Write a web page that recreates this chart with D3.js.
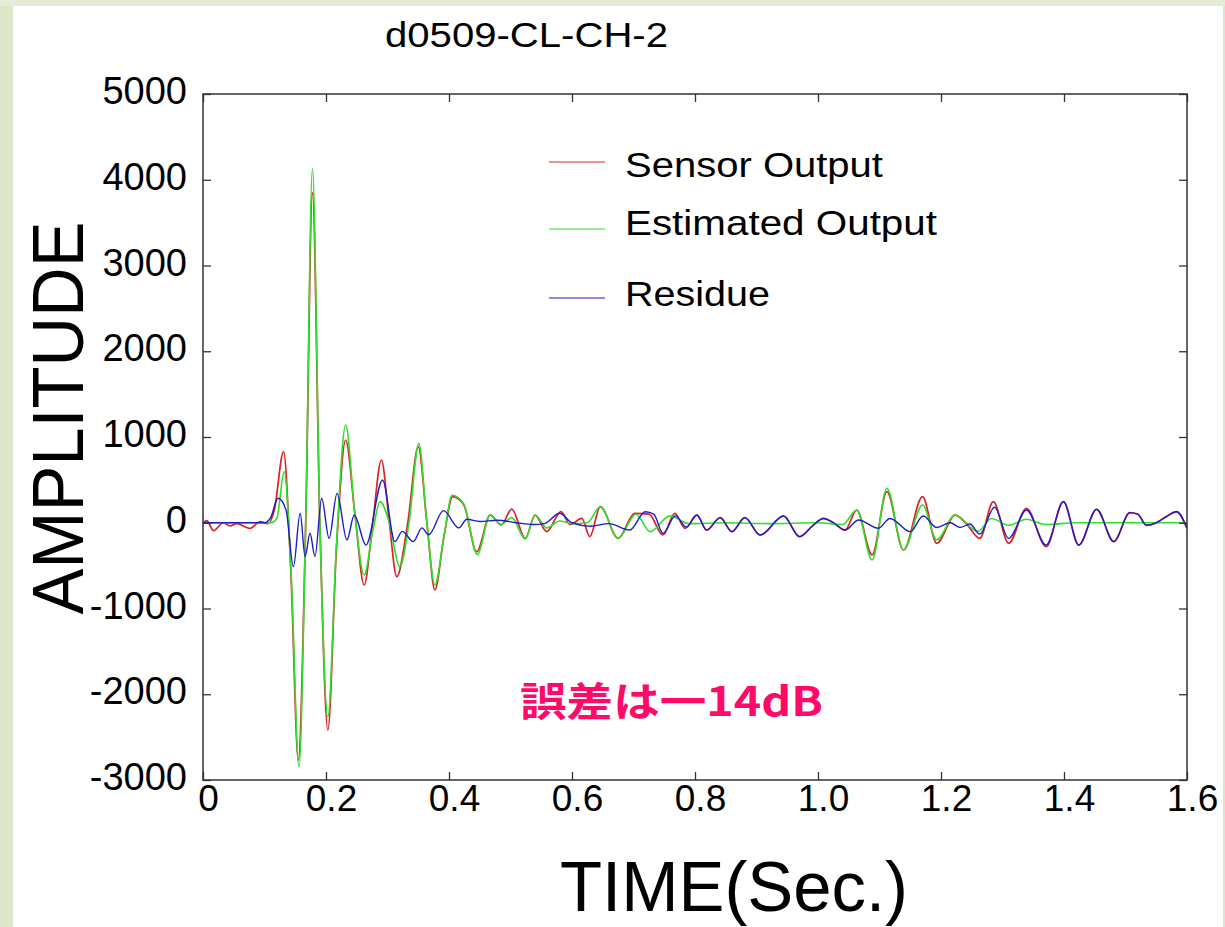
<!DOCTYPE html>
<html>
<head>
<meta charset="utf-8">
<script src="https://cdn.jsdelivr.net/npm/d3@7/dist/d3.min.js"></script>
<style>
  html, body { margin: 0; padding: 0; background: #dce6c9; }
  svg { display: block; }
  text { font-family: "Liberation Sans", Arial, Helvetica, sans-serif; fill: #000; }
</style>
</head>
<body>
<script>
// ---------- data ----------
const chartTitle = "d0509-CL-CH-2";
const xTickValues = [0, 0.2, 0.4, 0.6, 0.8, 1.0, 1.2, 1.4, 1.6];
const xTickLabels = ["0", "0.2", "0.4", "0.6", "0.8", "1.0", "1.2", "1.4", "1.6"];
const yTickValues = [-3000, -2000, -1000, 0, 1000, 2000, 3000, 4000, 5000];
const yTickLabels = ["-3000", "-2000", "-1000", "0", "1000", "2000", "3000", "4000", "5000"];
const seriesNames = ["Sensor Output", "Estimated Output", "Residue"];

const sensorTime = [0, 0.006, 0.017, 0.033, 0.044, 0.055, 0.076, 0.093, 0.106, 0.116, 0.131, 0.143, 0.155, 0.167, 0.178, 0.190, 0.203, 0.217, 0.232, 0.247, 0.262, 0.276, 0.290, 0.303, 0.315, 0.333, 0.350, 0.364, 0.377, 0.392, 0.406, 0.424, 0.445, 0.467, 0.485, 0.502, 0.524, 0.540, 0.559, 0.582, 0.597, 0.616, 0.629, 0.646, 0.675, 0.702, 0.725, 0.748, 0.767, 0.784, 0.803, 0.819, 0.841, 0.860, 0.881, 0.906, 0.944, 0.970, 0.992, 1.009, 1.025, 1.044, 1.063, 1.088, 1.112, 1.139, 1.170, 1.193, 1.223, 1.240, 1.263, 1.285, 1.310, 1.339, 1.371, 1.399, 1.424, 1.453, 1.481, 1.507, 1.520, 1.534, 1.550, 1.564, 1.583, 1.600];
const sensorAmp  = [-10, 24, -92, 0, -38, -10, -65, 12, -10, 150, 829, -600, -2767, 0, 3850, 0, -2417, -300, 965, 100, -726, 0, 732, 0, -629, 0, 887, 0, -784, -150, 304, 210, -337, 90, -26, 160, -182, 90, -104, 129, -20, 50, -162, 187, -182, 110, 100, -143, 110, -65, 90, -85, 60, -104, 60, -143, 78, -162, -30, 50, 0, -85, 148, -376, 362, -318, 304, -240, 90, 0, -182, 246, -240, 168, -279, 246, -260, 156, -220, 118, 100, -30, 0, 60, 129, -65];

const estimatedTime = [0, 0.110, 0.120, 0.132, 0.144, 0.156, 0.167, 0.178, 0.190, 0.203, 0.217, 0.232, 0.247, 0.262, 0.276, 0.288, 0.303, 0.320, 0.335, 0.351, 0.364, 0.377, 0.392, 0.405, 0.424, 0.446, 0.467, 0.485, 0.502, 0.524, 0.540, 0.559, 0.580, 0.600, 0.625, 0.646, 0.675, 0.704, 0.727, 0.759, 0.790, 0.850, 0.920, 1.000, 1.040, 1.063, 1.088, 1.112, 1.139, 1.170, 1.193, 1.223, 1.260, 1.282, 1.310, 1.339, 1.371, 1.420, 1.500, 1.600];
const estimatedAmp  = [0, 0, 50, 596, -700, -2850, 0, 4130, 0, -2262, -250, 1140, 100, -609, -100, 246, 0, -512, 0, 926, 0, -726, -150, 320, 220, -370, 90, -20, 60, -190, 90, -60, 20, -10, 0, 187, -182, 100, -104, 80, -10, 0, -10, 0, -20, 148, -434, 401, -318, 207, -200, 90, -100, 50, -30, 40, -20, 0, 0, 0];

const residueTime = [0, 0.100, 0.110, 0.122, 0.135, 0.147, 0.158, 0.166, 0.174, 0.182, 0.193, 0.205, 0.218, 0.234, 0.246, 0.265, 0.292, 0.312, 0.324, 0.342, 0.356, 0.367, 0.391, 0.416, 0.429, 0.450, 0.478, 0.510, 0.537, 0.555, 0.580, 0.600, 0.630, 0.660, 0.694, 0.719, 0.733, 0.748, 0.768, 0.786, 0.803, 0.819, 0.841, 0.860, 0.881, 0.906, 0.944, 0.970, 0.992, 1.009, 1.025, 1.044, 1.066, 1.098, 1.117, 1.150, 1.171, 1.193, 1.215, 1.231, 1.247, 1.263, 1.287, 1.310, 1.339, 1.371, 1.399, 1.424, 1.453, 1.481, 1.507, 1.520, 1.534, 1.550, 1.564, 1.583, 1.600];
const residueAmp  = [0, 0, 60, 285, 150, -512, 110, -395, -123, -395, 285, -182, 343, -201, 90, -260, 498, -220, -100, -220, -60, -140, 141, -60, 40, 15, 30, 0, -20, -10, 110, 0, -40, -10, -85, 129, 100, -124, 80, -50, 90, -85, 60, -104, 60, -143, 78, -162, -30, 50, 0, -85, 32, -65, 50, -104, 79, -55, 0, -55, -15, -132, 180, -182, 148, -260, 246, -260, 156, -220, 118, 100, -30, 0, 60, 129, -65];

const noteText = "誤差は一14dB";

// ---------- layout ----------
const W = 1225, H = 927;
const plot = { left: 203, right: 1187, top: 94, bottom: 780 };
const colors = { sensor: "#dc2028", estimated: "#2ee02a", residue: "#1c1cc8" };

const svg = d3.select("body").append("svg").attr("width", W).attr("height", H);

// page background strips + white sheet
svg.append("rect").attr("x", 0).attr("y", 0).attr("width", W).attr("height", H).attr("fill", "#dce6c9");
svg.append("rect").attr("x", 0).attr("y", 0).attr("width", W).attr("height", 6).attr("fill", "#e4ebd6");
svg.append("rect").attr("x", 13).attr("y", 6).attr("width", W - 15).attr("height", H - 6).attr("fill", "#ffffff");

const x = d3.scaleLinear().domain([0, 1.6]).range([plot.left, plot.right]);
const y = d3.scaleLinear().domain([-3000, 5000]).range([plot.bottom, plot.top]);

// title
svg.append("text").attr("x", 385).attr("y", 47).attr("font-size", 35)
  .attr("textLength", 283).attr("lengthAdjust", "spacingAndGlyphs").text(chartTitle);

// clip
svg.append("clipPath").attr("id", "clip").append("rect")
  .attr("x", plot.left).attr("y", plot.top)
  .attr("width", plot.right - plot.left).attr("height", plot.bottom - plot.top);

const line = d3.line().x(d => x(d[0])).y(d => y(d[1])).curve(d3.curveMonotoneX);
const zip = (t, v) => t.map((tt, i) => [tt, v[i]]);

const g = svg.append("g").attr("clip-path", "url(#clip)");
g.append("path").datum(zip(sensorTime, sensorAmp)).attr("d", line)
  .attr("fill", "none").attr("stroke", colors.sensor).attr("stroke-width", 1.7);
g.append("path").datum(zip(estimatedTime, estimatedAmp)).attr("d", line)
  .attr("fill", "none").attr("stroke", colors.estimated).attr("stroke-width", 1.6);
g.append("path").datum(zip(residueTime, residueAmp)).attr("d", line)
  .attr("fill", "none").attr("stroke", colors.residue).attr("stroke-width", 1.4);

// axes
const axisColor = "#333";
const yAxisL = svg.append("g").attr("transform", `translate(${plot.left},0)`)
  .call(d3.axisLeft(y).tickValues(yTickValues).tickSize(-8).tickPadding(16)
    .tickFormat((d, i) => yTickLabels[i]));
yAxisL.selectAll("text").attr("font-size", 38).attr("dy", "0.25em")
  .style("font-family", "'Liberation Sans', Arial, sans-serif").attr("fill", "#000");

svg.append("g").attr("transform", `translate(${plot.right},0)`)
  .call(d3.axisRight(y).tickValues(yTickValues).tickSize(-8).tickFormat(""));
svg.append("g").attr("transform", `translate(0,${plot.top})`)
  .call(d3.axisTop(x).tickValues(xTickValues).tickSize(-8).tickFormat(""));
const xAxisB = svg.append("g").attr("transform", `translate(0,${plot.bottom})`)
  .call(d3.axisBottom(x).tickValues(xTickValues).tickSize(-8).tickPadding(5)
    .tickFormat((d, i) => xTickLabels[i]));
xAxisB.selectAll("text").attr("font-size", 37).attr("dx", 5)
  .style("font-family", "'Liberation Sans', Arial, sans-serif").attr("fill", "#000");

svg.selectAll(".domain").remove();
svg.selectAll(".tick line").attr("stroke", axisColor).attr("stroke-width", 1.3);

svg.append("rect").attr("x", plot.left).attr("y", plot.top)
  .attr("width", plot.right - plot.left).attr("height", plot.bottom - plot.top)
  .attr("fill", "none").attr("stroke", axisColor).attr("stroke-width", 1.5);

// axis titles
svg.append("text").attr("transform", "translate(83,418) rotate(-90)")
  .attr("text-anchor", "middle").attr("font-size", 72)
  .attr("textLength", 393).attr("lengthAdjust", "spacingAndGlyphs").text("AMPLITUDE");
svg.append("text").attr("x", 560).attr("y", 911).attr("font-size", 70)
  .attr("textLength", 348).attr("lengthAdjust", "spacingAndGlyphs").text("TIME(Sec.)");

// legend
const legendItems = [
  { name: seriesNames[0], color: colors.sensor, ly: 162, ty: 177, len: 258 },
  { name: seriesNames[1], color: colors.estimated, ly: 229, ty: 235, len: 312 },
  { name: seriesNames[2], color: colors.residue, ly: 298, ty: 306, len: 145 }
];
const lg = svg.append("g");
legendItems.forEach(it => {
  lg.append("line").attr("x1", 549).attr("x2", 605).attr("y1", it.ly).attr("y2", it.ly)
    .attr("stroke", it.color).attr("stroke-width", 1.2);
  lg.append("text").attr("x", 625).attr("y", it.ty).attr("font-size", 35)
    .attr("textLength", it.len).attr("lengthAdjust", "spacingAndGlyphs").text(it.name);
});

// annotation
svg.append("text").attr("x", 520).attr("y", 716)
  .style("font-family", "'Noto Sans CJK JP', sans-serif").attr("font-weight", "bold")
  .attr("font-size", 40).style("fill", "#ff0a68")
  .attr("textLength", 303).attr("lengthAdjust", "spacingAndGlyphs").text(noteText);
</script>
</body>
</html>
